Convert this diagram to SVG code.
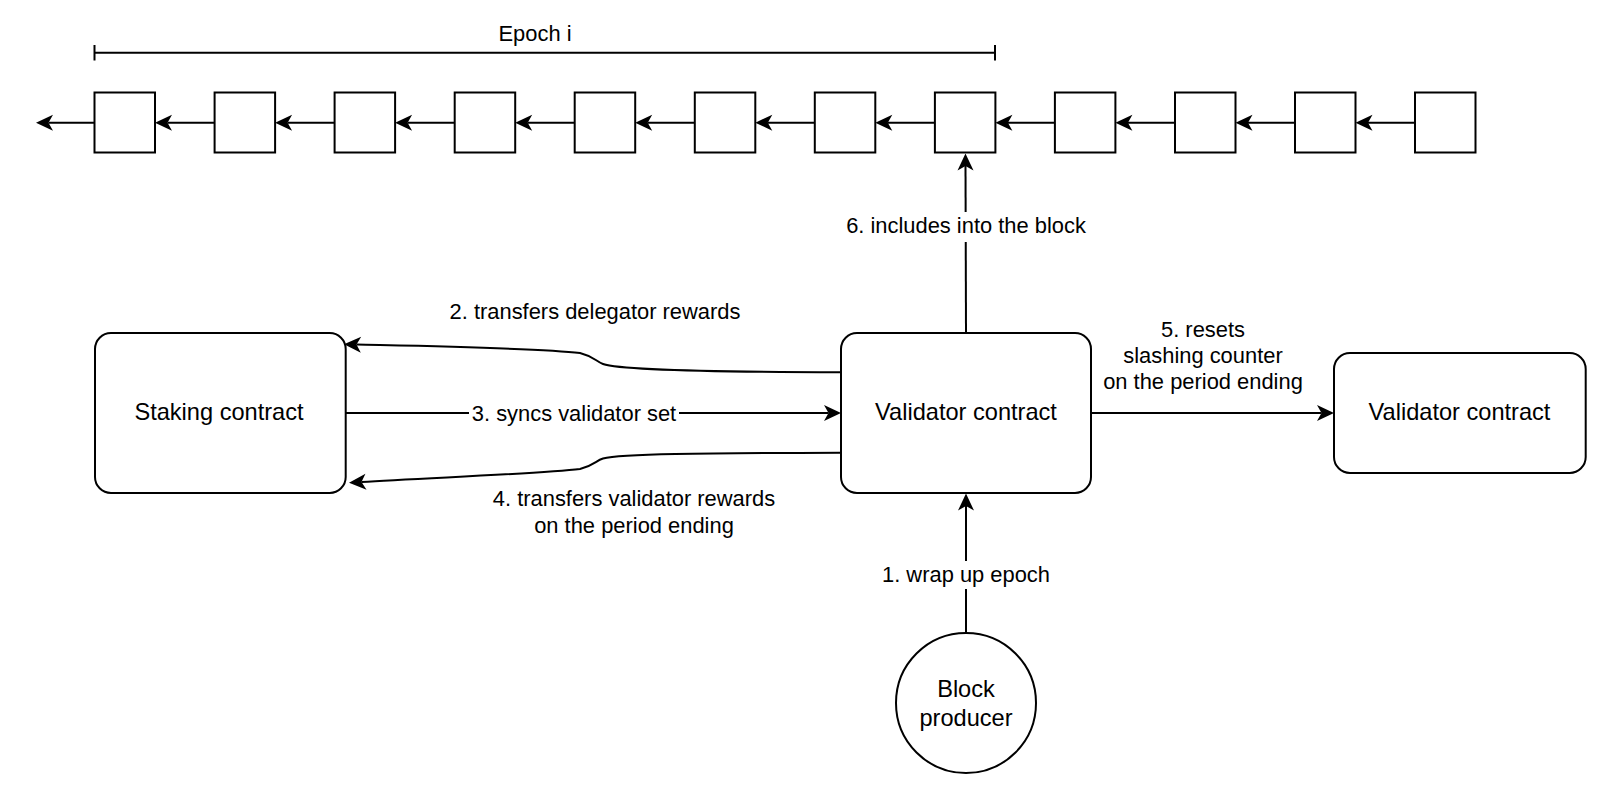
<svg xmlns="http://www.w3.org/2000/svg" width="1608" height="794" viewBox="0 0 1608 794">
<style>
.n{fill:#fff;stroke:#000;stroke-width:2}
.e{fill:none;stroke:#000;stroke-width:2}
text{font-family:"Liberation Sans",Arial,Helvetica,sans-serif;fill:#000}
.nl{font-size:23.6px;text-anchor:middle}
.el{font-size:21.9px;text-anchor:middle}
.bg{fill:#fff;stroke:none}
</style>
<defs>
<marker id="ah" markerUnits="userSpaceOnUse" markerWidth="20" markerHeight="20" refX="4.5" refY="0" orient="auto" overflow="visible">
<path d="M0,-8 L17,0 L0,8 L4.5,0 Z" fill="#000" stroke="none"/>
</marker>
</defs>
<rect width="1608" height="794" fill="#fff"/>

<g id="epoch-bracket">
<line class="e" x1="94.5" y1="52.7" x2="995" y2="52.7"/>
<line class="e" x1="94.5" y1="45" x2="94.5" y2="60.5"/>
<line class="e" x1="995" y1="45" x2="995" y2="60.5"/>
<text class="el" x="535" y="40.7">Epoch i</text>
</g>

<g id="blocks">
<g id="b0"><rect class="n" x="94.5" y="92.5" width="60.5" height="60"/></g>
<g id="b1"><rect class="n" x="214.6" y="92.5" width="60.5" height="60"/></g>
<g id="b2"><rect class="n" x="334.6" y="92.5" width="60.5" height="60"/></g>
<g id="b3"><rect class="n" x="454.7" y="92.5" width="60.5" height="60"/></g>
<g id="b4"><rect class="n" x="574.7" y="92.5" width="60.5" height="60"/></g>
<g id="b5"><rect class="n" x="694.8" y="92.5" width="60.5" height="60"/></g>
<g id="b6"><rect class="n" x="814.8" y="92.5" width="60.5" height="60"/></g>
<g id="b7"><rect class="n" x="934.9" y="92.5" width="60.5" height="60"/></g>
<g id="b8"><rect class="n" x="1054.9" y="92.5" width="60.5" height="60"/></g>
<g id="b9"><rect class="n" x="1175" y="92.5" width="60.5" height="60"/></g>
<g id="b10"><rect class="n" x="1295" y="92.5" width="60.5" height="60"/></g>
<g id="b11"><rect class="n" x="1415" y="92.5" width="60.5" height="60"/></g>
</g>

<g id="staking"><rect class="n" x="95" y="333" width="250.7" height="160" rx="16"/><text class="nl" x="219" y="420">Staking contract</text></g>
<g id="validator"><rect class="n" x="841" y="333" width="250" height="160" rx="16"/><text class="nl" x="966" y="420">Validator contract</text></g>
<g id="validator2"><rect class="n" x="1334" y="353" width="251.7" height="120" rx="16"/><text class="nl" x="1459.5" y="420">Validator contract</text></g>
<g id="producer"><circle class="n" cx="966" cy="703" r="70"/><text class="nl" x="966" y="697">Block</text><text class="nl" x="966" y="726">producer</text></g>

<g id="connectors">
<path class="e" marker-end="url(#ah)" d="M94.5,122.7 H48.5"/>
<path class="e" marker-end="url(#ah)" d="M214.6,122.7 H167.5"/>
<path class="e" marker-end="url(#ah)" d="M334.6,122.7 H287.6"/>
<path class="e" marker-end="url(#ah)" d="M454.7,122.7 H407.6"/>
<path class="e" marker-end="url(#ah)" d="M574.7,122.7 H527.7"/>
<path class="e" marker-end="url(#ah)" d="M694.8,122.7 H647.7"/>
<path class="e" marker-end="url(#ah)" d="M814.8,122.7 H767.8"/>
<path class="e" marker-end="url(#ah)" d="M934.9,122.7 H887.8"/>
<path class="e" marker-end="url(#ah)" d="M1054.9,122.7 H1007.9"/>
<path class="e" marker-end="url(#ah)" d="M1175,122.7 H1127.9"/>
<path class="e" marker-end="url(#ah)" d="M1295,122.7 H1248"/>
<path class="e" marker-end="url(#ah)" d="M1415,122.7 H1368"/>

<path class="e" marker-end="url(#ah)" d="M966,333 L965.5,166"/>
<path class="e" marker-end="url(#ah)" d="M841,372.3 C700,372 620,370 603,364 C596,361.5 594,356.5 580,353 C540,348 420,346 356.5,344.6"/>
<path class="e" marker-end="url(#ah)" d="M345.7,413 H828.5"/>
<path class="e" marker-end="url(#ah)" d="M841,452.7 C700,453 620,454 603,458.5 C596,460.5 594,465.5 580,469 C540,474 420,478 361.5,482"/>
<path class="e" marker-end="url(#ah)" d="M1091,413 H1321.5"/>
<path class="e" marker-end="url(#ah)" d="M966,633 V506"/>

<rect class="bg" x="845" y="212" width="242" height="30"/>
<text class="el" x="966" y="233.3">6. includes into the block</text>
<text class="el" x="595" y="319.3">2. transfers delegator rewards</text>
<rect class="bg" x="469" y="400" width="210" height="26"/>
<text class="el" x="574" y="420.5">3. syncs validator set</text>
<text class="el" x="634" y="506">4. transfers validator rewards</text>
<text class="el" x="634" y="533.3">on the period ending</text>
<text class="el" x="1203" y="337.3">5. resets</text>
<text class="el" x="1203" y="363">slashing counter</text>
<text class="el" x="1203" y="388.5">on the period ending</text>
<rect class="bg" x="880" y="561" width="172" height="28"/>
<text class="el" x="966" y="581.7">1. wrap up epoch</text>
</g>
</svg>
